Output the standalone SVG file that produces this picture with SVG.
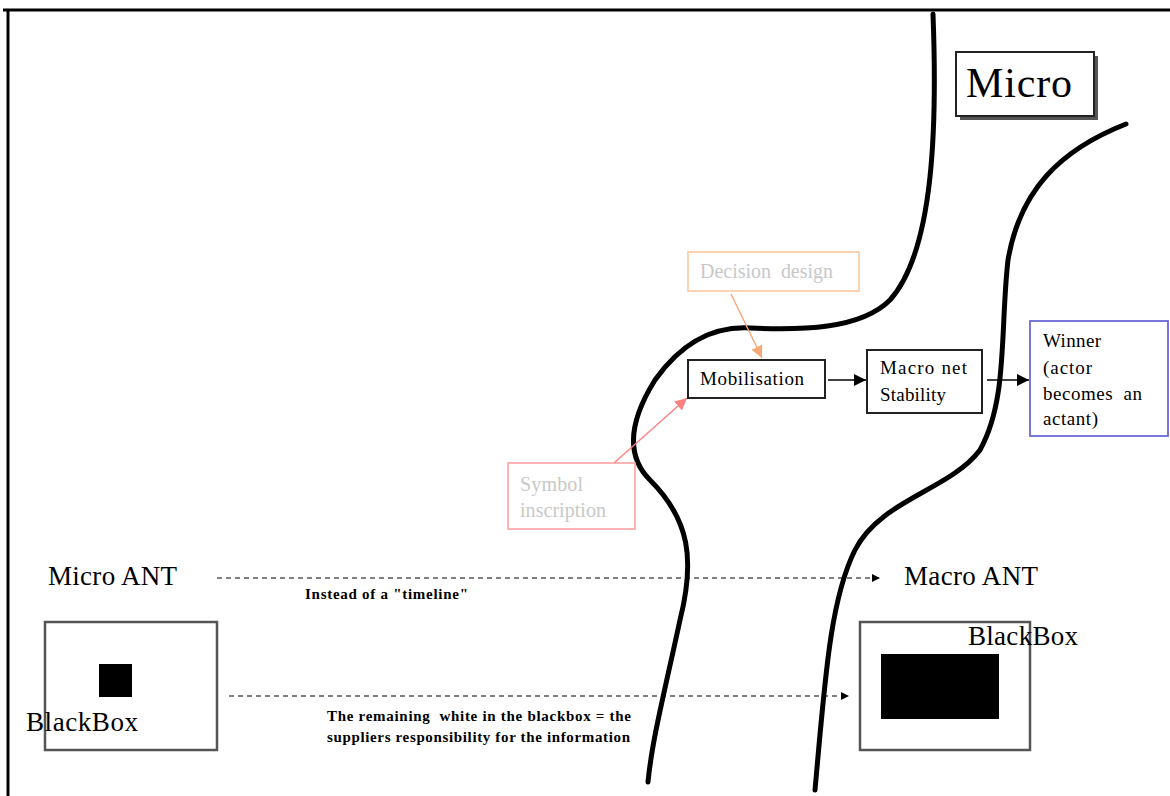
<svg xmlns="http://www.w3.org/2000/svg" width="1170" height="796" viewBox="0 0 1170 796">
  <style>
    text { font-family: "Liberation Serif", "Times New Roman", serif; fill: #000; }
    .big { font-size: 27px; }
    .mid { font-size: 19px; }
    .small { font-size: 15px; font-weight: bold; }
    .faint { fill: #c8c8c8; font-size: 20px; }
    .box { fill: #fff; stroke: #222; stroke-width: 2; }
    .graybox { fill: #fff; stroke: #555; stroke-width: 2.5; }
    .river { fill: none; stroke: #000; stroke-width: 5; stroke-linecap: round; }
    .link { fill: none; stroke: #000; stroke-width: 1.6; }
    .dash { fill: none; stroke: #000; stroke-width: 1.2; stroke-dasharray: 5 4; }
  </style>
  <defs>
    <marker id="arr" viewBox="0 0 10 10" refX="10" refY="5" markerWidth="8" markerHeight="8" markerUnits="userSpaceOnUse" orient="auto">
      <path d="M0,0 L10,5 L0,10 z" fill="#000"/>
    </marker>
    <marker id="arrBig" viewBox="0 0 10 10" refX="10" refY="5" markerWidth="12" markerHeight="12" markerUnits="userSpaceOnUse" orient="auto">
      <path d="M0,0 L10,5 L0,10 z" fill="#000"/>
    </marker>
    <marker id="arrOrange" viewBox="0 0 10 10" refX="10" refY="5" markerWidth="12" markerHeight="12" markerUnits="userSpaceOnUse" orient="auto">
      <path d="M0,0 L10,5 L0,10 z" fill="#f7a878"/>
    </marker>
    <marker id="arrPink" viewBox="0 0 10 10" refX="10" refY="5" markerWidth="12" markerHeight="12" markerUnits="userSpaceOnUse" orient="auto">
      <path d="M0,0 L10,5 L0,10 z" fill="#ff8080"/>
    </marker>
  </defs>

  <rect width="1170" height="796" fill="#fff"/>

  <!-- outer frame (top and left edges) -->
  <path d="M3 10 H1170 M8 10 V796" stroke="#000" stroke-width="3" fill="none"/>

  <!-- the two boundary curves -->
  <g id="boundaries">
    <path class="river" d="M933 14 C937 120, 935 250, 890 300 C860 330, 800 330, 750 328 C710 326, 680 345, 655 380 C630 420, 625 455, 650 480 C690 520, 695 560, 680 620 C665 690, 652 740, 648 782"/>
    <path class="river" d="M1126 124 C1060 150, 1020 190, 1008 260 C1000 330, 1008 400, 980 450 C950 490, 880 500, 855 550 C830 600, 825 680, 815 790"/>
  </g>

  <!-- connectors -->
  <g id="connectors">
    <line x1="731" y1="294" x2="762" y2="358" stroke="#f7a878" stroke-width="1.4" marker-end="url(#arrOrange)"/>
    <line x1="614" y1="463" x2="687" y2="398" stroke="#ff8080" stroke-width="1.4" marker-end="url(#arrPink)"/>
    <line class="link" x1="828" y1="380" x2="866" y2="380" marker-end="url(#arrBig)"/>
    <line class="link" x1="987" y1="380" x2="1029" y2="380" marker-end="url(#arrBig)"/>
    <line class="dash" x1="217" y1="578" x2="880" y2="578" marker-end="url(#arr)"/>
    <line class="dash" x1="229" y1="696" x2="849" y2="696" marker-end="url(#arr)"/>
  </g>

  <g id="micro">
    <rect x="960" y="56" width="138" height="64" fill="#555"/>
    <rect x="956" y="52" width="138" height="64" fill="#fff" stroke="#222" stroke-width="2"/>
    <text x="966" y="97" style="font-size:42px" textLength="106">Micro</text>
  </g>

  <g id="decision-design">
    <rect x="688" y="252" width="171" height="39" fill="#fff" stroke="#f9c8a0" stroke-width="1.6"/>
    <text class="faint" x="700" y="278" xml:space="preserve" textLength="133">Decision  design</text>
  </g>

  <g id="mobilisation">
    <rect class="box" x="688" y="360" width="137" height="38"/>
    <text class="mid" x="700" y="385" textLength="104">Mobilisation</text>
  </g>

  <g id="macro-net">
    <rect class="box" x="867" y="350" width="115" height="63"/>
    <text class="mid" x="880" y="374" textLength="87">Macro net</text>
    <text class="mid" x="880" y="401" textLength="66">Stability</text>
  </g>

  <g id="winner">
    <rect x="1030" y="321" width="138" height="115" fill="#fff" stroke="#6a6ad8" stroke-width="1.8"/>
    <text class="mid" x="1043" y="347" textLength="58">Winner</text>
    <text class="mid" x="1043" y="374" textLength="49">(actor</text>
    <text class="mid" x="1043" y="400" xml:space="preserve" textLength="99">becomes  an</text>
    <text class="mid" x="1043" y="425" textLength="55">actant)</text>
  </g>

  <g id="symbol-inscription">
    <rect x="508" y="463" width="127" height="66" fill="#fff" stroke="#ffa0a0" stroke-width="1.6"/>
    <text class="faint" x="520" y="491" textLength="63">Symbol</text>
    <text class="faint" x="520" y="517" textLength="86">inscription</text>
  </g>

  <g id="micro-ant">
    <text class="big" x="48" y="585" textLength="129">Micro ANT</text>
    <text class="small" x="305" y="599" textLength="163">Instead of a "timeline"</text>
  </g>

  <g id="macro-ant">
    <text class="big" x="904" y="585" textLength="134">Macro ANT</text>
  </g>

  <g id="blackbox-small">
    <rect class="graybox" x="45" y="622" width="172" height="128"/>
    <rect x="99" y="664" width="33" height="33" fill="#000"/>
    <text class="big" x="26" y="731" textLength="112">BlackBox</text>
  </g>

  <g id="blackbox-large">
    <rect class="graybox" x="860" y="622" width="170" height="128"/>
    <rect x="881" y="654" width="118" height="65" fill="#000"/>
    <text class="big" x="968" y="645" textLength="110">BlackBox</text>
  </g>

  <g id="note">
    <text class="small" x="327" y="721" xml:space="preserve" textLength="304">The remaining  white in the blackbox = the</text>
    <text class="small" x="327" y="742" textLength="303">suppliers responsibility for the information</text>
  </g>
</svg>
